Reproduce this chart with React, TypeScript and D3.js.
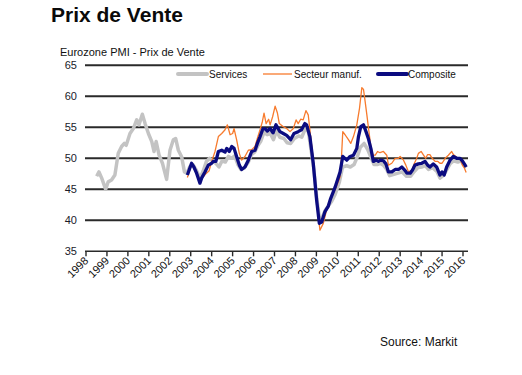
import React from "react";
import * as d3 from "d3";

const years = d3.range(1998, 2017);
const yTicks = [35, 40, 45, 50, 55, 60, 65];

const services: [number, number][] = [
  [1998.51, 47.1], [1998.62, 47.8], [1998.75, 46.8], [1998.94, 45.0], [1999.06, 46.2],
  [1999.22, 46.5], [1999.38, 47.3], [1999.54, 50.8], [1999.7, 51.9], [1999.83, 52.4],
  [1999.92, 52.1], [2000.1, 54.0], [2000.26, 54.8], [2000.42, 56.2], [2000.53, 55.4],
  [2000.69, 57.1], [2000.82, 55.6], [2000.98, 54.0], [2001.14, 52.7], [2001.25, 51.1],
  [2001.35, 52.7], [2001.49, 50.5], [2001.65, 49.2], [2001.85, 46.6], [2002.01, 51.3],
  [2002.17, 53.0], [2002.28, 53.2], [2002.41, 51.3], [2002.57, 50.2], [2002.7, 47.8],
  [2002.82, 47.6], [2002.95, 48.6], [2003.1, 49.0], [2003.28, 48.0], [2003.44, 46.8],
  [2003.6, 48.0], [2003.75, 49.5], [2003.9, 50.0], [2004.05, 49.6], [2004.2, 49.2],
  [2004.35, 48.6], [2004.5, 49.6], [2004.65, 49.4], [2004.8, 50.3], [2004.95, 50.0],
  [2005.1, 50.4], [2005.25, 49.0], [2005.4, 48.2], [2005.55, 48.4], [2005.75, 49.4],
  [2005.9, 50.6], [2006.05, 51.0], [2006.2, 52.0], [2006.35, 52.8], [2006.5, 54.2],
  [2006.65, 53.8], [2006.8, 54.0], [2006.95, 53.0], [2007.1, 54.5], [2007.25, 53.4],
  [2007.45, 53.2], [2007.6, 52.5], [2007.77, 52.4], [2007.95, 53.2], [2008.15, 53.6],
  [2008.3, 53.4], [2008.5, 55.0], [2008.62, 54.2], [2008.72, 52.0], [2008.88, 48.2],
  [2009.02, 43.5], [2009.15, 40.2], [2009.28, 40.5], [2009.42, 41.6], [2009.58, 42.4],
  [2009.72, 43.0], [2009.9, 44.2], [2010.1, 46.2], [2010.25, 48.6], [2010.45, 48.8],
  [2010.62, 48.6], [2010.8, 49.0], [2010.95, 50.2], [2011.1, 51.8], [2011.28, 52.4],
  [2011.45, 51.4], [2011.6, 50.2], [2011.75, 49.0], [2011.9, 49.0], [2012.05, 49.2],
  [2012.2, 48.9], [2012.36, 48.2], [2012.5, 47.2], [2012.7, 47.4], [2012.9, 47.6],
  [2013.1, 47.8], [2013.3, 47.1], [2013.5, 47.1], [2013.65, 47.8], [2013.85, 48.5],
  [2014.05, 48.6], [2014.2, 48.8], [2014.35, 48.2], [2014.55, 48.5], [2014.75, 47.9],
  [2014.9, 46.8], [2015.05, 47.2], [2015.2, 48.0], [2015.4, 49.2], [2015.55, 49.6],
  [2015.75, 49.4], [2015.9, 49.6], [2016.05, 48.9], [2016.15, 48.5],
];

const manuf: [number, number][] = [
  [2002.84, 46.9], [2003.04, 49.0], [2003.15, 48.4], [2003.3, 47.5], [2003.45, 46.5],
  [2003.6, 47.0], [2003.75, 47.6], [2003.88, 48.0], [2004.0, 49.5], [2004.16, 51.1],
  [2004.32, 53.5], [2004.48, 54.0], [2004.64, 54.6], [2004.75, 55.4], [2004.88, 53.8],
  [2005.0, 54.0], [2005.07, 54.8], [2005.19, 53.0], [2005.32, 50.8], [2005.43, 49.7],
  [2005.59, 50.3], [2005.75, 51.3], [2005.91, 51.4], [2006.07, 51.9], [2006.18, 53.2],
  [2006.31, 54.6], [2006.42, 55.9], [2006.5, 57.3], [2006.6, 55.6], [2006.72, 56.3],
  [2006.79, 55.4], [2006.91, 56.7], [2007.03, 58.4], [2007.14, 57.3], [2007.23, 55.6],
  [2007.42, 55.1], [2007.58, 54.8], [2007.74, 54.3], [2007.9, 54.8], [2008.03, 56.2],
  [2008.13, 55.6], [2008.25, 56.3], [2008.37, 56.2], [2008.5, 57.7], [2008.61, 57.0],
  [2008.69, 54.6], [2008.85, 49.7], [2009.01, 43.3], [2009.17, 38.4], [2009.33, 39.5],
  [2009.49, 41.7], [2009.65, 43.3], [2009.89, 44.9], [2010.13, 47.0], [2010.2, 50.3],
  [2010.26, 54.3], [2010.37, 53.8], [2010.53, 53.0], [2010.64, 52.4], [2010.77, 53.5],
  [2010.93, 55.4], [2011.06, 58.1], [2011.17, 61.4], [2011.25, 61.1], [2011.33, 59.1],
  [2011.41, 57.0], [2011.49, 54.8], [2011.6, 51.9], [2011.7, 50.5], [2011.81, 50.5],
  [2011.92, 51.1], [2012.04, 50.9], [2012.2, 51.1], [2012.36, 50.5], [2012.44, 48.9],
  [2012.6, 49.2], [2012.76, 50.0], [2012.92, 50.0], [2013.0, 50.3], [2013.16, 49.7],
  [2013.27, 48.9], [2013.4, 47.8], [2013.56, 48.1], [2013.68, 49.2], [2013.79, 50.0],
  [2013.87, 50.8], [2014.0, 51.1], [2014.1, 50.6], [2014.22, 50.0], [2014.31, 50.6],
  [2014.42, 50.6], [2014.53, 50.0], [2014.67, 49.5], [2014.8, 49.5], [2014.9, 49.2],
  [2015.0, 49.2], [2015.15, 50.0], [2015.3, 50.5], [2015.46, 51.1], [2015.54, 50.6],
  [2015.65, 50.3], [2015.75, 50.0], [2015.86, 50.0], [2015.97, 48.9], [2016.07, 48.4],
  [2016.15, 47.7],
];

const composite: [number, number][] = [
  [2002.84, 47.3], [2003.04, 49.2], [2003.15, 48.6], [2003.28, 47.6], [2003.44, 46.0],
  [2003.52, 46.8], [2003.68, 47.8], [2003.84, 48.9], [2004.0, 49.2], [2004.08, 49.5],
  [2004.2, 49.5], [2004.32, 51.1], [2004.48, 51.3], [2004.64, 51.0], [2004.72, 51.6],
  [2004.84, 51.1], [2004.96, 51.9], [2005.07, 51.6], [2005.19, 50.3], [2005.32, 48.9],
  [2005.43, 48.2], [2005.59, 48.6], [2005.75, 49.7], [2005.91, 51.1], [2006.07, 51.3],
  [2006.18, 52.4], [2006.31, 53.5], [2006.44, 54.7], [2006.55, 54.8], [2006.66, 54.4],
  [2006.79, 54.8], [2006.93, 54.1], [2007.07, 55.4], [2007.26, 54.3], [2007.42, 54.0],
  [2007.58, 53.7], [2007.77, 53.0], [2007.93, 54.0], [2008.13, 54.3], [2008.29, 54.6],
  [2008.45, 55.6], [2008.53, 55.4], [2008.69, 53.5], [2008.85, 49.2], [2009.01, 43.3],
  [2009.14, 39.5], [2009.25, 39.7], [2009.41, 41.4], [2009.57, 42.3], [2009.68, 43.5],
  [2009.89, 45.3], [2010.13, 47.8], [2010.26, 50.3], [2010.45, 49.7], [2010.61, 50.3],
  [2010.77, 50.5], [2010.93, 51.6], [2011.01, 53.5], [2011.12, 55.1], [2011.25, 55.4],
  [2011.37, 54.3], [2011.48, 53.2], [2011.6, 51.6], [2011.72, 49.5], [2011.85, 49.7],
  [2011.96, 49.5], [2012.07, 49.7], [2012.2, 49.6], [2012.32, 49.1], [2012.44, 47.8],
  [2012.6, 47.8], [2012.76, 48.2], [2012.92, 48.2], [2013.08, 48.6], [2013.24, 48.0],
  [2013.32, 47.6], [2013.48, 47.6], [2013.59, 48.1], [2013.71, 48.9], [2013.87, 49.1],
  [2014.03, 49.2], [2014.19, 49.5], [2014.31, 48.9], [2014.42, 48.6], [2014.58, 49.1],
  [2014.74, 48.6], [2014.9, 47.3], [2015.0, 47.8], [2015.1, 47.3], [2015.22, 48.6],
  [2015.38, 49.7], [2015.54, 50.3], [2015.7, 50.0], [2015.86, 50.0], [2015.97, 49.6],
  [2016.1, 48.9], [2016.15, 48.6],
];

const W = 522;
const H = 375;
const FONT = "'Liberation Sans', Arial, sans-serif";

export default function App() {
  const x = d3.scaleLinear().domain([1998, 2016]).range([86, 463]);
  const y = d3.scaleLinear().domain([35, 65]).range([251.3, 65.3]);
  const line = d3
    .line<[number, number]>()
    .x((d) => x(d[0]))
    .y((d) => y(d[1]));

  const gridX0 = 85;
  const gridX1 = 468;

  return (
    <svg
      width={W}
      height={H}
      style={{ position: "absolute", left: 0, top: 0, background: "#fff" }}
      fontFamily={FONT}
    >
      <text x={51} y={22} fontSize={21} fontWeight="bold" fill="#0a0a0a">
        Prix de Vente
      </text>
      <text x={60} y={56} fontSize={11} fill="#111">
        Eurozone PMI - Prix de Vente
      </text>

      {yTicks.map((t) => (
        <g key={t}>
          <line
            x1={gridX0}
            x2={gridX1}
            y1={y(t)}
            y2={y(t)}
            stroke="#2a2a2a"
            strokeWidth={t === 35 ? 1.5 : 2}
          />
          <text x={77} y={y(t) + 4} fontSize={11} textAnchor="end" fill="#1a1a2a">
            {t}
          </text>
        </g>
      ))}

      {years.map((yr) => (
        <g key={yr}>
          <line x1={x(yr)} x2={x(yr)} y1={y(35)} y2={y(35) + 5} stroke="#2a2a2a" strokeWidth={1.4} />
          <text
            transform={`translate(${x(yr) + 3},${y(35) + 10}) rotate(-45)`}
            fontSize={11}
            textAnchor="end"
            fill="#111"
          >
            {yr}
          </text>
        </g>
      ))}

      <path d={line(services) || ""} fill="none" stroke="#c3c3c3" strokeWidth={3.5} strokeLinejoin="round" />
      <path d={line(manuf) || ""} fill="none" stroke="#f77b2e" strokeWidth={1.3} strokeLinejoin="round" />
      <path d={line(composite) || ""} fill="none" stroke="#0b0b80" strokeWidth={3.3} strokeLinejoin="round" />

      {/* legend */}
      <line x1={178} x2={207} y1={74} y2={74} stroke="#c3c3c3" strokeWidth={4} strokeLinecap="round" />
      <text x={209} y={77.5} fontSize={10} fill="#111">Services</text>
      <line x1={263} x2={292} y1={74} y2={74} stroke="#f77b2e" strokeWidth={1.3} />
      <text x={294} y={77.5} fontSize={10} fill="#111">Secteur manuf.</text>
      <line x1={378} x2={407} y1={74} y2={74} stroke="#0b0b80" strokeWidth={4} strokeLinecap="round" />
      <text x={408} y={77.5} fontSize={10} fill="#111">Composite</text>

      <text x={380} y={346} fontSize={12} fill="#111">
        Source: Markit
      </text>
    </svg>
  );
}
